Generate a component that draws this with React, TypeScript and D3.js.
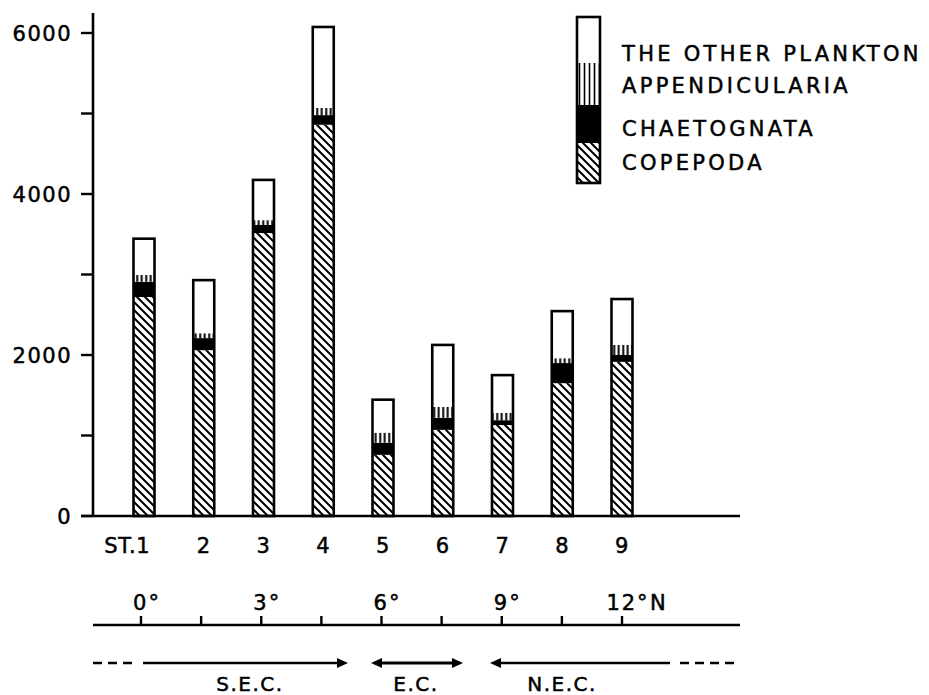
import React from "react";
import * as d3 from "d3";

const stations = ["ST.1", "2", "3", "4", "5", "6", "7", "8", "9"];
const copepoda = [2720, 2060, 3515, 4860, 760, 1070, 1130, 1650, 1915];
const chaetognata = [190, 150, 100, 120, 150, 150, 60, 250, 85];
const appendicularia = [85, 60, 60, 90, 125, 135, 90, 60, 125];
const otherPlankton = [450, 660, 500, 1005, 410, 770, 470, 585, 570];
const seriesNames = ["COPEPODA", "CHAETOGNATA", "APPENDICULARIA", "THE OTHER PLANKTON"];
const yTicks = [0, 2000, 4000, 6000];
const yMinorTicks = [1000, 3000, 5000];
const latLabels = ["0°", "3°", "6°", "9°", "12°"];
const latValues = [0, 3, 6, 9, 12];
const latTicks = [0, 1.5, 3, 4.5, 6, 7.5, 9, 10.5, 12];
const currents = ["S.E.C.", "E.C.", "N.E.C."];

const W = 929;
const H = 695;
const FONT = "'DejaVu Sans', sans-serif";
const fills = ["url(#hatch)", "#000", "url(#vlines)", "#fff"];
const txt = { fill: "#000", stroke: "#000", strokeWidth: 0.5 };

export default function App() {
  const y = d3.scaleLinear().domain([0, 6000]).range([516, 33]);
  const x = d3.scaleLinear().domain([0, 8]).range([144, 622]);
  const lat = d3.scaleLinear().domain([0, 12]).range([141, 622]);
  const barW = 21;
  const axisX = 93;
  const axisRight = 740;

  const rows = stations.map((s, i) => ({
    s,
    i,
    COPEPODA: copepoda[i],
    CHAETOGNATA: chaetognata[i],
    APPENDICULARIA: appendicularia[i],
    "THE OTHER PLANKTON": otherPlankton[i],
  }));
  const stacked = d3.stack<any>().keys(seriesNames)(rows);

  const legendX = 577;
  const legendW = 23;
  const legendSeg = [
    { name: "THE OTHER PLANKTON", y0: 17, y1: 63, fill: fills[3], ty: 53 },
    { name: "APPENDICULARIA", y0: 63, y1: 105, fill: "url(#vlinesL)", ty: 85 },
    { name: "CHAETOGNATA", y0: 105, y1: 143, fill: fills[1], ty: 128 },
    { name: "COPEPODA", y0: 143, y1: 183, fill: fills[0], ty: 162 },
  ];

  const arrowY = 663;
  const head = (xTip: number, dir: number) =>
    `M${xTip},${arrowY} L${xTip - dir * 11},${arrowY - 5} L${xTip - dir * 11},${arrowY + 5} Z`;

  return (
    <svg width={W} height={H} style={{ position: "absolute", left: 0, top: 0, background: "#fff" }} fontFamily={FONT}>
      <defs>
        <pattern id="hatch" patternUnits="userSpaceOnUse" width="8" height="8">
          <rect width="8" height="8" fill="#fff" />
          <path d="M-2,-2 L10,10 M-2,6 L2,10 M6,-2 L10,2" stroke="#000" strokeWidth="2" />
        </pattern>
        <pattern id="vlines" patternUnits="userSpaceOnUse" width="4.5" height="8">
          <rect width="4.5" height="8" fill="#fff" />
          <path d="M2.2,0 L2.2,8" stroke="#000" strokeWidth="2" />
        </pattern>
        <pattern id="vlinesL" patternUnits="userSpaceOnUse" width="5" height="8" x={legendX}>
          <rect width="5" height="8" fill="#fff" />
          <path d="M2.5,0 L2.5,8" stroke="#000" strokeWidth="1.6" />
        </pattern>
      </defs>

      {/* bars */}
      {stacked.map((layer, li) =>
        layer.map((d, i) => (
          <rect
            key={`${li}-${i}`}
            x={x(i) - barW / 2}
            y={y(d[1])}
            width={barW}
            height={y(d[0]) - y(d[1])}
            fill={fills[li]}
          />
        ))
      )}
      {rows.map((r, i) => {
        const total = copepoda[i] + chaetognata[i] + appendicularia[i] + otherPlankton[i];
        return (
          <rect
            key={`o${i}`}
            x={x(i) - barW / 2}
            y={y(total)}
            width={barW}
            height={y(0) - y(total)}
            fill="none"
            stroke="#000"
            strokeWidth={2.6}
          />
        );
      })}

      {/* y axis */}
      <line x1={axisX} x2={axisX} y1={13} y2={517} stroke="#000" strokeWidth={2.6} />
      {[...yTicks, ...yMinorTicks].map((t) => (
        <line key={`yt${t}`} x1={axisX - 12} x2={axisX} y1={y(t)} y2={y(t)} stroke="#000" strokeWidth={2.4} />
      ))}
      {yTicks.map((t) => (
        <text key={`yl${t}`} x={72} y={y(t) + 8} textAnchor="end" fontSize={21} letterSpacing={1.5} {...txt}>
          {t}
        </text>
      ))}

      {/* x axis */}
      <line x1={axisX - 12} x2={axisRight} y1={516} y2={516} stroke="#000" strokeWidth={2.6} />
      {stations.map((s, i) => (
        <text
          key={`st${i}`}
          x={i === 0 ? x(i) + 6 : x(i)}
          y={553}
          textAnchor={i === 0 ? "end" : "middle"}
          fontSize={21}
          letterSpacing={0.5}
          {...txt}
        >
          {s}
        </text>
      ))}

      {/* latitude axis */}
      <line x1={axisX} x2={axisRight} y1={625} y2={625} stroke="#000" strokeWidth={2.6} />
      {latTicks.map((t) => (
        <line key={`lt${t}`} x1={lat(t)} x2={lat(t)} y1={625} y2={616} stroke="#000" strokeWidth={2.4} />
      ))}
      {latValues.map((v, i) => (
        <text key={`ll${v}`} x={lat(v) + 6} y={610} textAnchor="middle" fontSize={21} letterSpacing={2} {...txt}>
          {latLabels[i]}
        </text>
      ))}
      <text x={lat(12) + 28} y={610} fontSize={21} {...txt}>N</text>

      {/* currents */}
      <line x1={axisX} x2={137} y1={arrowY} y2={arrowY} stroke="#000" strokeWidth={2.4} strokeDasharray="9,6" />
      <line x1={143} x2={340} y1={arrowY} y2={arrowY} stroke="#000" strokeWidth={2.6} />
      <path d={head(348, 1)} fill="#000" />
      <line x1={378} x2={456} y1={arrowY} y2={arrowY} stroke="#000" strokeWidth={3} />
      <path d={head(371, -1)} fill="#000" />
      <path d={head(463, 1)} fill="#000" />
      <line x1={497} x2={670} y1={arrowY} y2={arrowY} stroke="#000" strokeWidth={2.4} />
      <path d={head(490, -1)} fill="#000" />
      <line x1={680} x2={axisRight} y1={arrowY} y2={arrowY} stroke="#000" strokeWidth={2.4} strokeDasharray="9,6" />
      <text x={250} y={691} textAnchor="middle" fontSize={20} letterSpacing={1.5} {...txt}>{currents[0]}</text>
      <text x={416} y={691} textAnchor="middle" fontSize={20} letterSpacing={1.5} {...txt}>{currents[1]}</text>
      <text x={562} y={691} textAnchor="middle" fontSize={20} letterSpacing={1.5} {...txt}>{currents[2]}</text>

      {/* legend */}
      {legendSeg.map((s) => (
        <g key={s.name}>
          <rect x={legendX} y={s.y0} width={legendW} height={s.y1 - s.y0} fill={s.fill} />
          <text x={622} y={s.ty + 8} fontSize={21} letterSpacing={3.3} {...txt}>
            {s.name}
          </text>
        </g>
      ))}
      <rect x={legendX} y={17} width={legendW} height={166} fill="none" stroke="#000" strokeWidth={2.6} />
    </svg>
  );
}
